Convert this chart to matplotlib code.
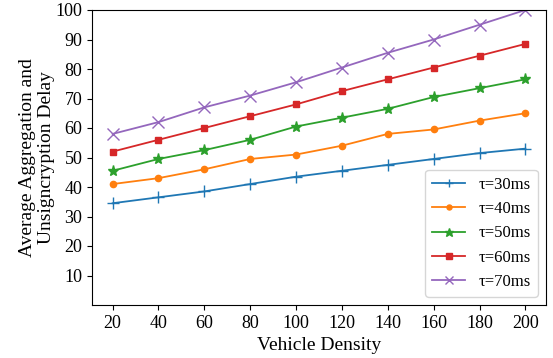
import numpy as np
import matplotlib
matplotlib.use('Agg')
import matplotlib.pyplot as plt

plt.rcParams['font.family'] = ['Liberation Serif', 'DejaVu Serif']

density = [20, 40, 60, 80, 100, 120, 140, 160, 180, 200]
delay_30 = [34.5, 36.5, 38.5, 41, 43.5, 45.5, 47.5, 49.5, 51.5, 53]
delay_40 = [41, 43, 46, 49.5, 51, 54, 58, 59.5, 62.5, 65]
delay_50 = [45.5, 49.5, 52.5, 56, 60.5, 63.5, 66.5, 70.5, 73.5, 76.5]
delay_60 = [52, 56, 60, 64, 68, 72.5, 76.5, 80.5, 84.5, 88.5]
delay_70 = [58, 62, 67, 71, 75.5, 80.5, 85.5, 90, 95, 100]
labels = [u"\u03c4=30ms", u"\u03c4=40ms", u"\u03c4=50ms", u"\u03c4=60ms", u"\u03c4=70ms"]

series = [delay_30, delay_40, delay_50, delay_60, delay_70]
markers = ['+', '.', '*', 's', 'x']
msizes = [8, 9, 8, 5, 8]

fig = plt.figure(figsize=(5.53, 3.58), dpi=100)
ax = fig.add_axes([92/553., 1 - 305/358., (546-92)/553., (305-10)/358.])
for ys, m, ms, lab in zip(series, markers, msizes, labels):
    ax.plot(density, ys, marker=m, markersize=ms, linewidth=1.3, label=lab)

ax.set_ylim(0, 100)
ax.set_yticks(np.arange(10, 101, 10))
ax.set_xticks(density)
ax.tick_params(labelsize=13)
ax.set_xlabel('Vehicle Density', fontsize=14)
ax.set_ylabel('Average Aggregation and\nUnsigncryption Delay', fontsize=14, labelpad=0)
ax.legend(loc='lower right', fontsize=12, markerscale=0.8)

plt.savefig('out.png', dpi=100)
